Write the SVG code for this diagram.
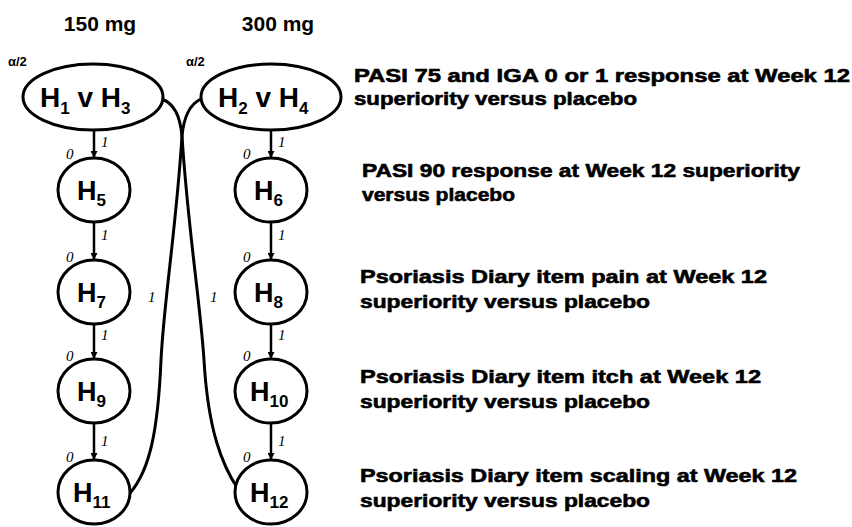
<svg xmlns="http://www.w3.org/2000/svg" width="852" height="527" viewBox="0 0 852 527">
<defs>
<marker id="ah" viewBox="0 0 10 10" refX="10" refY="5" markerWidth="7" markerHeight="7" markerUnits="userSpaceOnUse" orient="auto"><path d="M0,0 L10,5 L0,10 z" fill="#000"/></marker>
<style>
.n{fill:#fff;stroke:#000;stroke-width:3}
.t{font-family:"Liberation Sans",Arial,sans-serif;font-weight:bold;fill:#000}
.big{font-size:28px}
.sub{font-size:17px}
.lab{font-family:"Liberation Serif","Times New Roman",serif;font-style:italic;font-size:15px;fill:#000}
.desc{font-family:"Liberation Sans",Arial,sans-serif;font-weight:bold;font-size:19px;fill:#000;stroke:#000;stroke-width:0.6}
.e{fill:none;stroke:#000;stroke-width:3}
.a{fill:none;stroke:#000;stroke-width:2.5;marker-end:url(#ah)}
</style>
</defs>
<rect width="852" height="527" fill="#fff"/>
<text class="t" x="100" y="31" font-size="21" text-anchor="middle">150 mg</text>
<text class="t" x="278" y="31" font-size="21" text-anchor="middle">300 mg</text>
<g id="connectors">
<path class="e" d="M162,99 C174,104 180,115 182,136 C188,230 200,300 204,360 C208,430 222,465 238,489"/>
<path class="e" d="M201,99 C190,104 184,115 182,136 C176,230 164,300 161,360 C158,430 150,470 130,493"/>
<line class="a" x1="94" y1="130" x2="94" y2="158"/>
<line class="a" x1="94" y1="222" x2="94" y2="260"/>
<line class="a" x1="94" y1="324" x2="94" y2="359"/>
<line class="a" x1="94" y1="422" x2="94" y2="460"/>
<line class="a" x1="271" y1="130" x2="271" y2="158"/>
<line class="a" x1="271" y1="222" x2="271" y2="260"/>
<line class="a" x1="271" y1="324" x2="271" y2="359"/>
<line class="a" x1="271" y1="422" x2="271" y2="460"/>
<text class="lab" x="101" y="147">1</text>
<text class="lab" x="101" y="240">1</text>
<text class="lab" x="101" y="340">1</text>
<text class="lab" x="101" y="446">1</text>
<text class="lab" x="278" y="147">1</text>
<text class="lab" x="278" y="240">1</text>
<text class="lab" x="278" y="340">1</text>
<text class="lab" x="278" y="446">1</text>
<text class="lab" x="148" y="302">1</text>
<text class="lab" x="210" y="302">1</text>
</g>
<g id="H1vH3">
<ellipse class="n" cx="93" cy="97" rx="70" ry="33"/>
<text class="t big" x="40" y="107">H<tspan class="sub" dy="7">1</tspan><tspan dy="-7"> v H</tspan><tspan class="sub" dy="7">3</tspan></text>
<text class="t" x="8" y="66" font-size="13">α/2</text>
</g>
<g id="H2vH4">
<ellipse class="n" cx="271" cy="97" rx="70" ry="33"/>
<text class="t big" x="218" y="107">H<tspan class="sub" dy="7">2</tspan><tspan dy="-7"> v H</tspan><tspan class="sub" dy="7">4</tspan></text>
<text class="t" x="186" y="66" font-size="13">α/2</text>
</g>
<g id="H5">
<ellipse class="n" cx="94" cy="190" rx="36" ry="32"/>
<text class="t" x="77" y="200" font-size="27">H<tspan class="sub" font-size="15" dy="6">5</tspan></text>
<text class="lab" x="66" y="159">0</text>
</g>
<g id="H6">
<ellipse class="n" cx="271" cy="190" rx="36" ry="32"/>
<text class="t" x="254" y="200" font-size="27">H<tspan class="sub" font-size="15" dy="6">6</tspan></text>
<text class="lab" x="243" y="159">0</text>
</g>
<g id="H7">
<ellipse class="n" cx="94" cy="292" rx="36" ry="32"/>
<text class="t" x="77" y="302" font-size="27">H<tspan class="sub" font-size="15" dy="6">7</tspan></text>
<text class="lab" x="66" y="262">0</text>
</g>
<g id="H8">
<ellipse class="n" cx="271" cy="292" rx="36" ry="32"/>
<text class="t" x="254" y="302" font-size="27">H<tspan class="sub" font-size="15" dy="6">8</tspan></text>
<text class="lab" x="243" y="262">0</text>
</g>
<g id="H9">
<ellipse class="n" cx="94" cy="391" rx="36" ry="32"/>
<text class="t" x="77" y="401" font-size="27">H<tspan class="sub" font-size="15" dy="6">9</tspan></text>
<text class="lab" x="66" y="361">0</text>
</g>
<g id="H10">
<ellipse class="n" cx="271" cy="391" rx="36" ry="32"/>
<text class="t" x="250" y="401" font-size="27">H<tspan class="sub" font-size="15" dy="6">10</tspan></text>
<text class="lab" x="243" y="361">0</text>
</g>
<g id="H11">
<ellipse class="n" cx="94" cy="492" rx="36" ry="32"/>
<text class="t" x="73" y="502" font-size="27">H<tspan class="sub" font-size="15" dy="6">11</tspan></text>
<text class="lab" x="66" y="462">0</text>
</g>
<g id="H12">
<ellipse class="n" cx="271" cy="492" rx="36" ry="32"/>
<text class="t" x="250" y="502" font-size="27">H<tspan class="sub" font-size="15" dy="6">12</tspan></text>
<text class="lab" x="243" y="462">0</text>
</g>
<g id="descriptions">
<text class="desc" x="354" y="82" textLength="496" lengthAdjust="spacingAndGlyphs">PASI 75 and IGA 0 or 1 response at Week 12</text>
<text class="desc" x="354" y="105" textLength="283" lengthAdjust="spacingAndGlyphs">superiority versus placebo</text>
<text class="desc" x="362" y="177" textLength="438" lengthAdjust="spacingAndGlyphs">PASI 90 response at Week 12 superiority</text>
<text class="desc" x="362" y="201" textLength="153" lengthAdjust="spacingAndGlyphs">versus placebo</text>
<text class="desc" x="360" y="283" textLength="407" lengthAdjust="spacingAndGlyphs">Psoriasis Diary item pain at Week 12</text>
<text class="desc" x="360" y="308" textLength="290" lengthAdjust="spacingAndGlyphs">superiority versus placebo</text>
<text class="desc" x="360" y="383" textLength="401" lengthAdjust="spacingAndGlyphs">Psoriasis Diary item itch at Week 12</text>
<text class="desc" x="360" y="408" textLength="290" lengthAdjust="spacingAndGlyphs">superiority versus placebo</text>
<text class="desc" x="360" y="482" textLength="437" lengthAdjust="spacingAndGlyphs">Psoriasis Diary item scaling at Week 12</text>
<text class="desc" x="360" y="507" textLength="290" lengthAdjust="spacingAndGlyphs">superiority versus placebo</text>
</g>
</svg>
